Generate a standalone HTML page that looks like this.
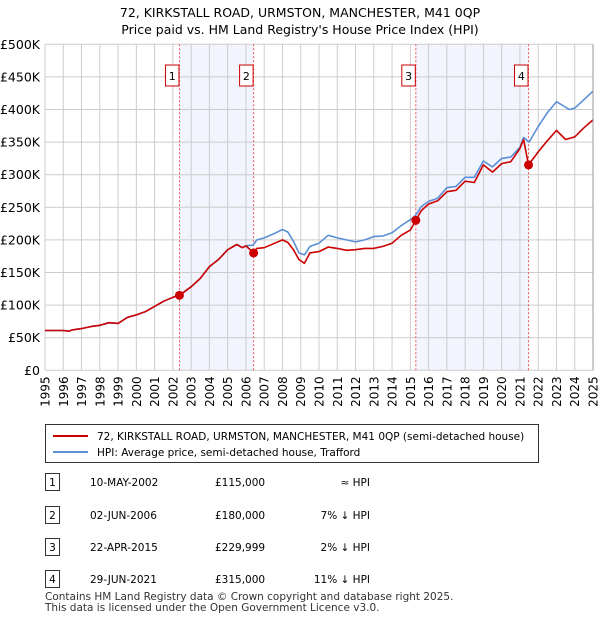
<!DOCTYPE html>
<html><head><meta charset="utf-8"><style>
body{margin:0;background:#fff;font-family:"Liberation Sans","DejaVu Sans",sans-serif;}
svg text{font-family:"DejaVu Sans","Liberation Sans",sans-serif;}
</style></head><body>
<svg id="c" width="600" height="620" xmlns="http://www.w3.org/2000/svg">
<text x="300" y="17" font-size="12.5" text-anchor="middle">72, KIRKSTALL ROAD, URMSTON, MANCHESTER, M41 0QP</text>
<text x="300" y="34" font-size="12.5" text-anchor="middle">Price paid vs. HM Land Registry's House Price Index (HPI)</text>
<g id="plot"></g>
<g>
<rect x="45.5" y="424.5" width="493" height="38" fill="#fff" stroke="#333"/>
<line x1="53" y1="436" x2="88" y2="436" stroke="#cc0000" stroke-width="2"/>
<text x="97" y="440" font-size="10.5">72, KIRKSTALL ROAD, URMSTON, MANCHESTER, M41 0QP (semi-detached house)</text>
<line x1="53" y1="452" x2="88" y2="452" stroke="#5b8fd6" stroke-width="2"/>
<text x="97" y="456" font-size="10.5">HPI: Average price, semi-detached house, Trafford</text>
</g>
<g id="tbl" font-size="10.5"></g>
<text x="45" y="600" font-size="10.5" fill="#333">Contains HM Land Registry data © Crown copyright and database right 2025.</text>
<text x="45" y="611" font-size="10.5" fill="#333">This data is licensed under the Open Government Licence v3.0.</text>
</svg>
<script>
const hpiYears=[1995,1995.5,1996,1996.3,1996.5,1997,1997.5,1998,1998.5,1999,1999.5,2000,2000.5,2001,2001.5,2002,2002.36,2003,2003.5,2004,2004.5,2005,2005.5,2005.8,2006,2006.4,2006.6,2007,2007.5,2008,2008.3,2008.6,2008.9,2009.2,2009.5,2010,2010.5,2011,2011.5,2012,2012.5,2013,2013.5,2014,2014.5,2015,2015.3,2015.6,2016,2016.5,2017,2017.5,2018,2018.5,2019,2019.5,2020,2020.5,2021,2021.2,2021.5,2022,2022.5,2023,2023.7,2024,2024.5,2025];
const hpiValues=[61,61,61,60,62,64,67,69,73,72,81,85,90,98,106,112,115,128,141,159,170,185,193,188,191,192,200,203,209,216,212,198,180,177,190,195,207,203,200,197,200,205,206,211,222,231,238,251,259,264,280,282,296,296,321,312,325,327,342,357,350,374,395,412,400,402,415,428];
const saleYears=[1995,1995.5,1996,1996.3,1996.5,1997,1997.5,1998,1998.5,1999,1999.5,2000,2000.5,2001,2001.5,2002,2002.36,2003,2003.5,2004,2004.5,2005,2005.5,2005.8,2006,2006.42,2006.6,2007,2007.5,2008,2008.3,2008.6,2008.9,2009.2,2009.5,2010,2010.5,2011,2011.5,2012,2012.5,2013,2013.5,2014,2014.5,2015,2015.3,2015.6,2016,2016.5,2017,2017.5,2018,2018.5,2019,2019.5,2020,2020.5,2021,2021.2,2021.47,2022,2022.5,2023,2023.5,2024,2024.5,2025];
const saleValues=[61,61,61,60,62,64,67,69,73,72,81,85,90,98,106,112,115,128,141,159,170,185,193,188,191,180,187,188,194,200,196,185,170,164,180,182,189,187,184,185,187,187,190,195,207,215,230,245,255,260,274,276,290,288,315,304,317,320,340,354,315,335,352,368,354,358,372,384];
const saleDates=[2002.36,2006.42,2015.3,2021.47];
const salePrices=[115,180,230,315];
const saleLabels=["1","2","3","4"];
const yTicks=[0,50,100,150,200,250,300,350,400,450,500];
const yTickLabels=["£0","£50K","£100K","£150K","£200K","£250K","£300K","£350K","£400K","£450K","£500K"];
const tableDates=["10-MAY-2002","02-JUN-2006","22-APR-2015","29-JUN-2021"];
const tablePrices=["£115,000","£180,000","£229,999","£315,000"];
const tableRel=["≈ HPI","7% ↓ HPI","2% ↓ HPI","11% ↓ HPI"];

const NS="http://www.w3.org/2000/svg";
const X0=45,X1=593,Y0=370.3,Y1=44.3;
const xs=y=>X0+(y-1995)*(X1-X0)/30;
const ys=v=>Y0-v*(Y0-Y1)/500;
function mk(t,a,p){const e=document.createElementNS(NS,t);for(const k in a)e.setAttribute(k,a[k]);p.appendChild(e);return e;}
const g=document.getElementById('plot');
// shading
[[0,1],[2,3]].forEach((pr,i)=>{
 const r=mk('rect',{x:xs(saleDates[pr[0]]),y:Y1,width:xs(saleDates[pr[1]])-xs(saleDates[pr[0]]),height:Y0-Y1,fill:'#eef2fc',opacity:0.75},g);
 
 
});
// grid
for(let yr=1995;yr<=2025;yr++){
 const l=mk('line',{x1:xs(yr),x2:xs(yr),y1:Y1,y2:Y0,stroke:'#cccccc','stroke-width':1},g);
 
 
 const t=mk('text',{x:0,y:0,'font-size':12,'text-anchor':'end',transform:`translate(${xs(yr)+4.5},${Y0+6}) rotate(-90)`},g);
 t.textContent=yr;
 
 
}
yTicks.forEach((v,i)=>{
 const l=mk('line',{x1:X0,x2:X1,y1:ys(v),y2:ys(v),stroke:'#cccccc','stroke-width':1},g);
 
 
 const t=mk('text',{x:X0-5,y:ys(v)+4.5,'font-size':12.5,'text-anchor':'end'},g);
 t.textContent=yTickLabels[i];
 
 
});
// vlines
saleDates.forEach((d,i)=>{
 const l=mk('line',{x1:xs(d),x2:xs(d),y1:Y1,y2:Y0,stroke:'#ee5555','stroke-width':1,'stroke-dasharray':'2,2'},g);
 
 
 const r=mk('rect',{x:xs(d)-14,y:65,width:13.5,height:21,fill:'#fff',stroke:'#cc0000','stroke-width':1},g);
 
 
 const t=mk('text',{x:xs(d)-7.2,y:80,'font-size':11,'text-anchor':'middle'},g);
 t.textContent=saleLabels[i];
 
 
});
function line(xsA,vA,col,name){
 const p=mk('polyline',{points:xsA.map((y,i)=>xs(y).toFixed(1)+','+ys(vA[i]).toFixed(1)).join(' '),fill:'none',stroke:col,'stroke-width':1.6,'stroke-linejoin':'round'},g);
 
 
}
line(hpiYears,hpiValues,'#5b8fd6','hpi-line');
line(saleYears,saleValues,'#cc0000','property-price-line');
saleDates.forEach((d,i)=>{
 const c=mk('circle',{cx:xs(d),cy:ys(salePrices[i]),r:4.5,fill:'#cc0000'},g);
 
 
});
mk('line',{x1:X1,x2:X1,y1:Y1,y2:Y0,stroke:'#999','stroke-width':1},g);
// table
const tb=document.getElementById('tbl');
const rowY=[482,515,547,579];
rowY.forEach((y,i)=>{
 const r=mk('rect',{x:45.5,y:y-8.5,width:14,height:17,fill:'#fff',stroke:'#333'},tb);
 
 
 const cols=[[52.5,saleLabels[i],'middle'],[90,tableDates[i],'start'],[215,tablePrices[i],'start'],[370,tableRel[i],'end']];
 cols.forEach((c,j)=>{
  const t=mk('text',{x:c[0],y:y+4,'text-anchor':c[2]},tb);
  t.textContent=c[1];
  
  
 });
});
</script>
</body></html>
